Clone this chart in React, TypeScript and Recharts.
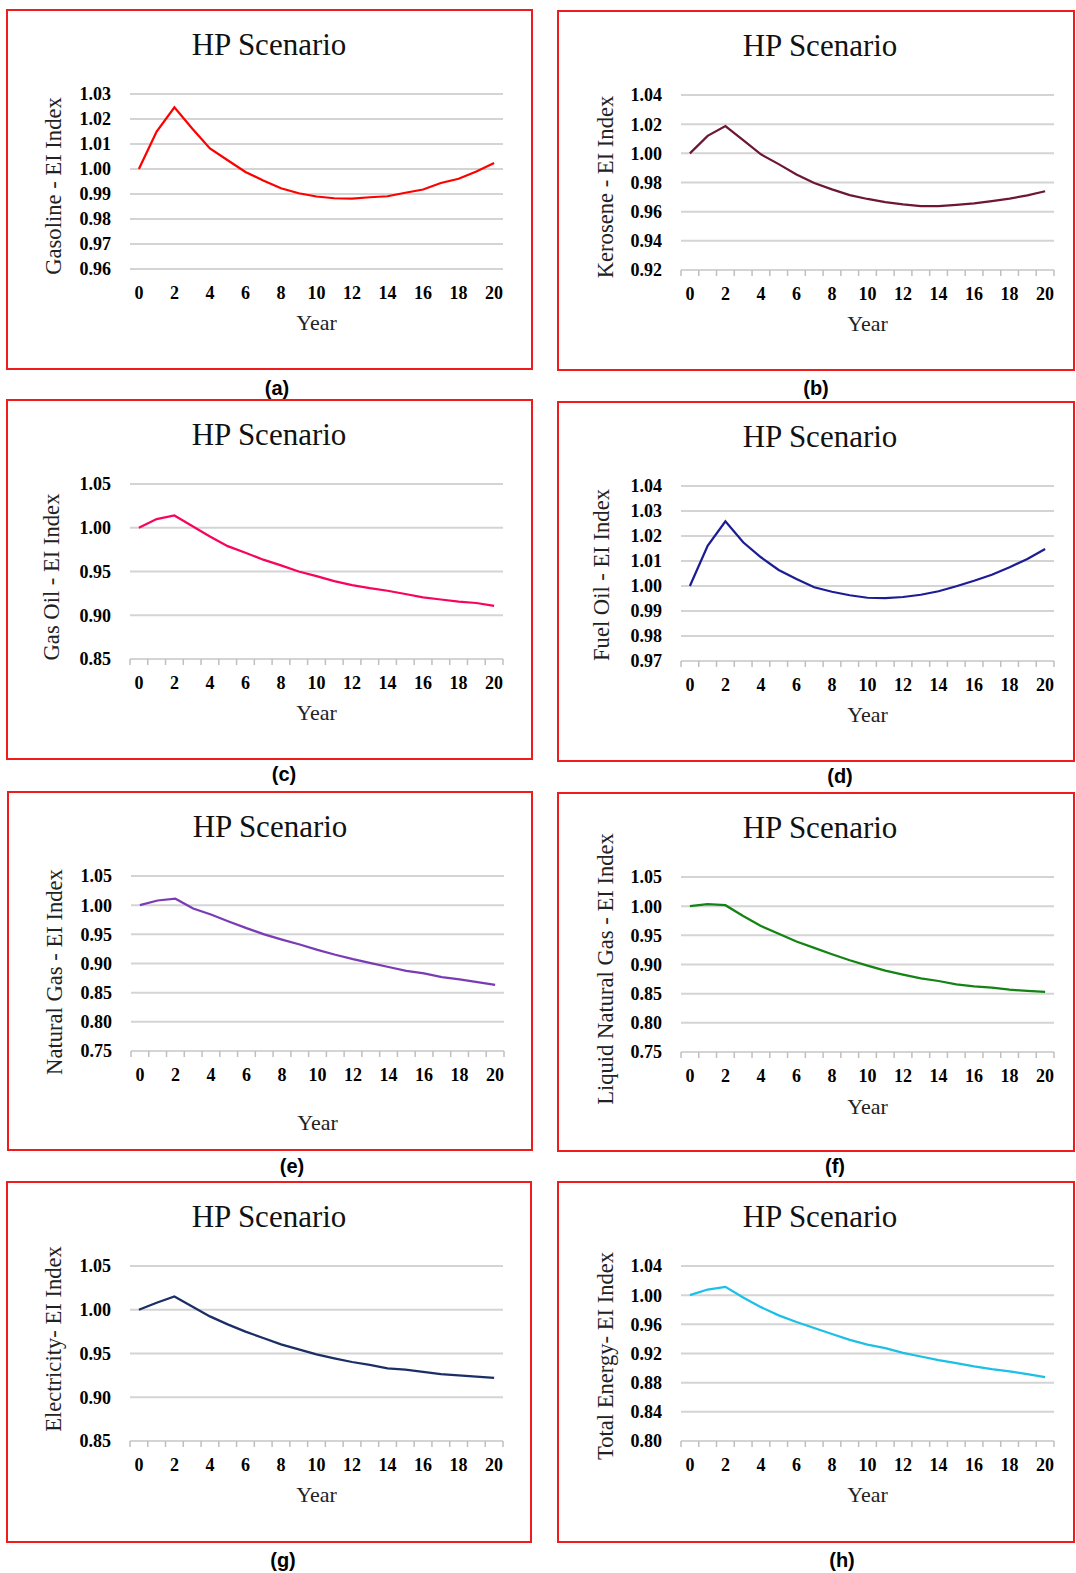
import { LineChart, Line, XAxis, YAxis, CartesianGrid } from "recharts";

// x categories (years after base)
const years = [0, 1, 2, 3, 4, 5, 6, 7, 8, 9, 10, 11, 12, 13, 14, 15, 16, 17, 18, 19, 20];

// EI index per fuel
const gasoline = [1.0, 1.015, 1.0247, 1.0162, 1.0082, 1.0035, 0.9988, 0.9954, 0.9923, 0.9903, 0.989, 0.9883, 0.9882, 0.9887, 0.9891, 0.9905, 0.9918, 0.9944, 0.9961, 0.999, 1.0024];
const kerosene = [1.0, 1.012, 1.0187, 1.009, 0.9993, 0.9926, 0.9855, 0.9797, 0.9753, 0.9714, 0.9687, 0.9666, 0.965, 0.9638, 0.9638, 0.9647, 0.9657, 0.9673, 0.9689, 0.9712, 0.974];
const gasOil = [1.0, 1.0099, 1.014, 1.002, 0.99, 0.979, 0.9715, 0.9635, 0.957, 0.95, 0.9447, 0.939, 0.9345, 0.931, 0.928, 0.9243, 0.9205, 0.918, 0.9155, 0.914, 0.9106];
const fuelOil = [1.0, 1.0161, 1.0259, 1.0175, 1.0115, 1.0064, 1.0028, 0.9995, 0.9977, 0.9963, 0.9953, 0.9952, 0.9956, 0.9965, 0.9979, 0.9999, 1.0021, 1.0045, 1.0075, 1.0108, 1.0148];
const naturalGas = [1.0, 1.008, 1.011, 0.9943, 0.984, 0.972, 0.9606, 0.95, 0.941, 0.9326, 0.9234, 0.915, 0.9074, 0.9006, 0.894, 0.8874, 0.883, 0.8766, 0.8726, 0.868, 0.8634];
const lng = [1.0, 1.0034, 1.0017, 0.983, 0.966, 0.9527, 0.9393, 0.9284, 0.9175, 0.9072, 0.898, 0.8895, 0.8826, 0.8763, 0.8717, 0.866, 0.8626, 0.8603, 0.8569, 0.8546, 0.8529];
const electricity = [1.0, 1.008, 1.0152, 1.0038, 0.9924, 0.9833, 0.975, 0.9677, 0.9605, 0.9548, 0.9491, 0.9445, 0.9403, 0.9369, 0.9331, 0.9316, 0.929, 0.9263, 0.9251, 0.9236, 0.9221];
const totalEnergy = [1.0, 1.0077, 1.0114, 0.9968, 0.9836, 0.9723, 0.9632, 0.955, 0.9468, 0.9386, 0.9323, 0.9273, 0.9209, 0.9159, 0.9109, 0.9068, 0.9023, 0.8986, 0.8955, 0.8918, 0.8877];

// y tick labels
const gasolineTicks = [0.96, 0.97, 0.98, 0.99, 1.0, 1.01, 1.02, 1.03];
const keroseneTicks = [0.92, 0.94, 0.96, 0.98, 1.0, 1.02, 1.04];
const gasOilTicks = [0.85, 0.9, 0.95, 1.0, 1.05];
const fuelOilTicks = [0.97, 0.98, 0.99, 1.0, 1.01, 1.02, 1.03, 1.04];
const naturalGasTicks = [0.75, 0.8, 0.85, 0.9, 0.95, 1.0, 1.05];
const lngTicks = [0.75, 0.8, 0.85, 0.9, 0.95, 1.0, 1.05];
const electricityTicks = [0.85, 0.9, 0.95, 1.0, 1.05];
const totalEnergyTicks = [0.8, 0.84, 0.88, 0.92, 0.96, 1.0, 1.04];

const SERIF = "'Liberation Serif', 'Times New Roman', serif";
const SANS = "'Liberation Sans', Arial, sans-serif";
const PLOT_LEFT = 124;
const PLOT_RIGHT = 497;
const PLOT_TOP = 85;
const PLOT_BOTTOM = 260;
const Y_AXIS_W = 70;
const X_AXIS_H = 40;

const panels = [
  { tag: "(a)", x: 6, y: 9, w: 527, h: 361, values: gasoline, ticks: gasolineTicks, color: "#ff0000", yLabel: "Gasoline - EI Index", marks: false, yLabelX: 47, yLabelY: 177, yearY: 321, tagX: 277, tagY: 388 },
  { tag: "(b)", x: 557, y: 10, w: 518, h: 361, values: kerosene, ticks: keroseneTicks, color: "#6e1636", yLabel: "Kerosene - EI Index", marks: true, yLabelX: 48, yLabelY: 177, yearY: 321, tagX: 816, tagY: 388 },
  { tag: "(c)", x: 6, y: 399, w: 527, h: 361, values: gasOil, ticks: gasOilTicks, color: "#f7045c", yLabel: "Gas Oil - EI Index", marks: true, yLabelX: 45, yLabelY: 178, yearY: 321, tagX: 284, tagY: 774 },
  { tag: "(d)", x: 557, y: 401, w: 518, h: 361, values: fuelOil, ticks: fuelOilTicks, color: "#1c1c94", yLabel: "Fuel Oil - EI Index", marks: true, yLabelX: 44, yLabelY: 174, yearY: 321, tagX: 840, tagY: 776 },
  { tag: "(e)", x: 7, y: 791, w: 526, h: 360, values: naturalGas, ticks: naturalGasTicks, color: "#7a3cb4", yLabel: "Natural Gas - EI Index", marks: true, yLabelX: 47, yLabelY: 181, yearY: 339, tagX: 292, tagY: 1166 },
  { tag: "(f)", x: 557, y: 792, w: 518, h: 360, values: lng, ticks: lngTicks, color: "#138313", yLabel: "Liquid Natural Gas - EI Index", marks: true, yLabelX: 48, yLabelY: 177, yearY: 322, tagX: 835, tagY: 1166 },
  { tag: "(g)", x: 6, y: 1181, w: 526, h: 362, values: electricity, ticks: electricityTicks, color: "#1b2f66", yLabel: "Electricity- EI Index", marks: true, yLabelX: 47, yLabelY: 158, yearY: 321, tagX: 283, tagY: 1560 },
  { tag: "(h)", x: 557, y: 1181, w: 518, h: 362, values: totalEnergy, ticks: totalEnergyTicks, color: "#1cc0e6", yLabel: "Total Energy- EI Index", marks: true, yLabelX: 48, yLabelY: 175, yearY: 321, tagX: 842, tagY: 1560 },
];

function YearTick(props: any) {
  const { x, y, payload, marks } = props;
  const band = (PLOT_RIGHT - PLOT_LEFT) / years.length;
  const v = payload.value;
  const last = v === years[years.length - 1];
  return (
    <g>
      {marks && <line x1={x - band / 2} x2={x - band / 2} y1={y} y2={y + 6} stroke="#bfbfbf" strokeWidth={1.5} />}
      {marks && last && <line x1={x + band / 2} x2={x + band / 2} y1={y} y2={y + 6} stroke="#bfbfbf" strokeWidth={1.5} />}
      {v % 2 === 0 && (
        <text x={x} y={y + 30} textAnchor="middle" fill="#000" fontSize={18} fontWeight="bold" fontFamily={SERIF}>
          {v}
        </text>
      )}
    </g>
  );
}

function Panel({ p }: { p: any }) {
  const data = years.map((yr, i) => ({ year: yr, value: p.values[i] }));
  return (
    <div style={{ position: "absolute", left: p.x, top: p.y, width: p.w, height: p.h }}>
      <LineChart
        width={p.w}
        height={p.h}
        data={data}
        margin={{ top: PLOT_TOP, right: p.w - PLOT_RIGHT, bottom: p.h - PLOT_BOTTOM - X_AXIS_H, left: PLOT_LEFT - Y_AXIS_W }}
      >
        <CartesianGrid vertical={false} stroke="#d4d4d4" strokeWidth={2} />
        <XAxis
          dataKey="year"
          type="number"
          domain={[-0.5, 20.5]}
          ticks={years}
          interval={0}
          height={X_AXIS_H}
          axisLine={false}
          tickLine={false}
          tickSize={0}
          tickMargin={0}
          tick={(tp: any) => <YearTick {...tp} marks={p.marks} />}
        />
        <YAxis
          type="number"
          domain={[p.ticks[0], p.ticks[p.ticks.length - 1]]}
          ticks={p.ticks}
          interval={0}
          width={Y_AXIS_W}
          axisLine={false}
          tickLine={false}
          tickSize={0}
          tickMargin={19}
          tickFormatter={(v: number) => v.toFixed(2)}
          tick={{ fill: "#000", fontSize: 18, fontWeight: "bold", fontFamily: SERIF }}
        />
        <Line type="linear" dataKey="value" stroke={p.color} strokeWidth={2.25} dot={false} isAnimationActive={false} />
      </LineChart>
      <svg width={p.w} height={p.h} style={{ position: "absolute", left: 0, top: 0, pointerEvents: "none" }}>
        <rect x={1} y={1} width={p.w - 2} height={p.h - 2} fill="none" stroke="#ee1c1c" strokeWidth={2} />
        <text x={263} y={46} textAnchor="middle" fontSize={31} fontFamily={SERIF} fill="#111">
          HP Scenario
        </text>
        <text
          x={p.yLabelX}
          y={p.yLabelY}
          transform={`rotate(-90 ${p.yLabelX} ${p.yLabelY})`}
          textAnchor="middle"
          dominantBaseline="central"
          fontSize={22.6}
          fontFamily={SERIF}
          fill="#222"
        >
          {p.yLabel}
        </text>
        <text x={(PLOT_LEFT + PLOT_RIGHT) / 2} y={p.yearY} textAnchor="middle" fontSize={22} fontFamily={SERIF} fill="#222">
          Year
        </text>
      </svg>
    </div>
  );
}

export default function App() {
  return (
    <div style={{ position: "absolute", left: 0, top: 0, width: 1076, height: 1573, background: "#fff" }}>
      {panels.map((p) => (
        <Panel key={p.tag} p={p} />
      ))}
      {panels.map((p) => (
        <div
          key={p.tag + "-tag"}
          style={{
            position: "absolute",
            left: p.tagX - 30,
            top: p.tagY - 13,
            width: 60,
            height: 26,
            lineHeight: "26px",
            textAlign: "center",
            fontFamily: SANS,
            fontWeight: "bold",
            fontSize: 20,
            color: "#000",
          }}
        >
          {p.tag}
        </div>
      ))}
    </div>
  );
}
